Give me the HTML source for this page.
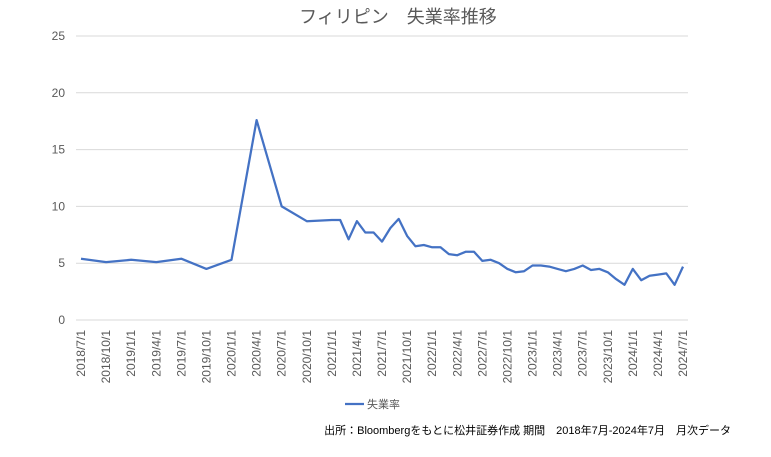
<!DOCTYPE html>
<html><head><meta charset="utf-8"><style>
body{margin:0;background:#fff;}
svg text{font-family:"Liberation Sans","Noto Sans CJK JP",sans-serif;}
</style></head><body>
<svg id="chart" width="771" height="452" xmlns="http://www.w3.org/2000/svg">
<rect width="771" height="452" fill="#fff"/>
<text x="398" y="23" text-anchor="middle" font-size="18" fill="#595959">フィリピン　失業率推移</text>
<g id="grid"></g><g id="yl"></g><g id="xl"></g><g id="series"></g>
<g>
<line x1="345" y1="404" x2="364" y2="404" stroke="#4472C4" stroke-width="2.25"/>
<text x="367" y="408" font-size="11" fill="#595959">失業率</text>
</g>
<text x="731" y="434" text-anchor="end" font-size="11" fill="#000">出所：Bloombergをもとに松井証券作成 期間　2018年7月-2024年7月　月次データ</text>
</svg>
<script>
const yTicks=[0,5,10,15,20,25];
const xTickLabels=["2018/7/1","2018/10/1","2019/1/1","2019/4/1","2019/7/1","2019/10/1","2020/1/1","2020/4/1","2020/7/1","2020/10/1","2021/1/1","2021/4/1","2021/7/1","2021/10/1","2022/1/1","2022/4/1","2022/7/1","2022/10/1","2023/1/1","2023/4/1","2023/7/1","2023/10/1","2024/1/1","2024/4/1","2024/7/1"];
const monthIdx=[0,3,6,9,12,15,18,21,24,27,30,31,32,33,34,35,36,37,38,39,40,41,42,43,44,45,46,47,48,49,50,51,52,53,54,55,56,57,58,59,60,61,62,63,64,65,66,67,68,69,70,71,72];
const rate=[5.4,5.1,5.3,5.1,5.4,4.5,5.3,17.6,10.0,8.7,8.8,8.8,7.1,8.7,7.7,7.7,6.9,8.1,8.9,7.4,6.5,6.6,6.4,6.4,5.8,5.7,6.0,6.0,5.2,5.3,5.0,4.5,4.2,4.3,4.8,4.8,4.7,4.5,4.3,4.5,4.8,4.4,4.5,4.2,3.6,3.1,4.5,3.5,3.9,4.0,4.1,3.1,4.7];
const NS="http://www.w3.org/2000/svg";
const X0=81,X1=683,Y0=320,Y1=36;
const x=m=>X0+(X1-X0)*m/72;
const y=v=>Y0-(Y0-Y1)*v/25;
function mk(t,a,p){const e=document.createElementNS(NS,t);for(const k in a)e.setAttribute(k,a[k]);p.appendChild(e);return e;}
const g=document.getElementById('grid'),yl=document.getElementById('yl'),xl=document.getElementById('xl'),s=document.getElementById('series');
yTicks.forEach(v=>{
 const l=mk('line',{x1:76,x2:688,y1:y(v),y2:y(v),stroke:'#d9d9d9','stroke-width':1},g);
 
 
 const t=mk('text',{x:65,y:y(v)+4,'text-anchor':'end','font-size':12,fill:'#595959'},yl);
 t.textContent=v;
 
 
});
xTickLabels.forEach((lab,i)=>{
 const xx=x(i*3);
 const t=mk('text',{transform:`translate(${xx+4},330) rotate(-90)`,'text-anchor':'end','font-size':12,fill:'#595959'},xl);
 t.textContent=lab;
 
 
});
const pts=rate.map((v,i)=>x(monthIdx[i]).toFixed(1)+','+y(v).toFixed(1)).join(' ');
const pl=mk('polyline',{points:pts,fill:'none',stroke:'#4472C4','stroke-width':2.25,'stroke-linejoin':'round'},s);


</script>
</body></html>
